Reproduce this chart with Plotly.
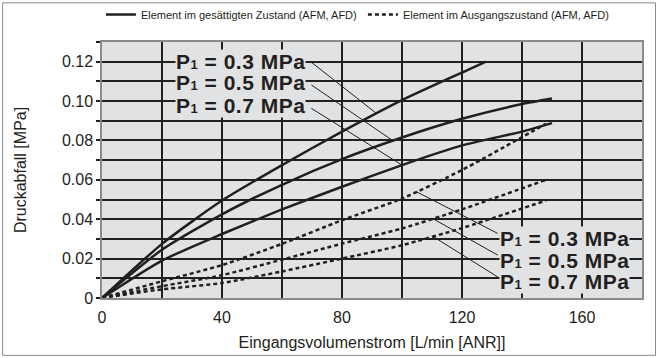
import numpy as np
import plotly.graph_objects as go

INK = "#231f20"
PLOT_BG = "#e1e2e3"
FRAME = "#8a8a8a"
FONT = "Liberation Sans, Arial, sans-serif"

# saturated element (solid)
flow_03 = [0, 20, 40, 60, 80, 100, 120, 128]
sat_03 = [0, 0.0275, 0.0495, 0.0675, 0.0845, 0.1005, 0.1145, 0.12]
flow_sat = [0, 20, 40, 60, 80, 100, 120, 140, 150]
sat_05 = [0, 0.0245, 0.0425, 0.0575, 0.0705, 0.0815, 0.091, 0.0985, 0.1013]
sat_07 = [0, 0.019, 0.0325, 0.045, 0.0565, 0.0675, 0.0775, 0.0845, 0.0888]

# initial element (dashed)
flow_init = [0, 20, 40, 60, 80, 100, 120, 148]
init_03 = [0, 0.0085, 0.0167, 0.0275, 0.0395, 0.0505, 0.065, 0.0885]
init_05 = [0, 0.006, 0.0116, 0.0195, 0.0276, 0.0353, 0.045, 0.06]
init_07 = [0, 0.0044, 0.0076, 0.0135, 0.020, 0.0268, 0.0355, 0.0495]

pressures = ["0.3", "0.5", "0.7"]
x_ticks = [0, 40, 80, 120, 160]
y_ticks = [0, 0.02, 0.04, 0.06, 0.08, 0.10, 0.12]
y_ticktext = ["0", "0.02", "0.04", "0.06", "0.08", "0.10", "0.12"]

# label boxes: (text x, text y, leader start x, leader start y, leader end x)
upper_labels = [(24.4, 0.1200, 69.8, 0.1197, 91.5),
                (24.4, 0.1092, 69.8, 0.1082, 97.0),
                (24.4, 0.0977, 69.8, 0.0963, 100.0)]
lower_labels = [(132.4, 0.0302, 131.9, 0.0328, 104.8),
                (132.4, 0.0192, 131.9, 0.0218, 110.3),
                (132.4, 0.0082, 131.9, 0.0107, 110.3)]

fig = go.Figure()

sat_series = [(flow_03, sat_03), (flow_sat, sat_05), (flow_sat, sat_07)]
init_series = [(flow_init, init_03), (flow_init, init_05), (flow_init, init_07)]

for i, (xs, ys) in enumerate(sat_series):
    fig.add_trace(go.Scatter(
        x=xs, y=ys, mode="lines", line=dict(color=INK, width=2.5, shape="spline", smoothing=0.6),
        name="Element im gesättigten Zustand (AFM, AFD)", showlegend=(i == 0)))
for i, (xs, ys) in enumerate(init_series):
    fig.add_trace(go.Scatter(
        x=xs, y=ys, mode="lines",
        line=dict(color=INK, width=2.5, dash="4px,3px", shape="spline", smoothing=0.6),
        name="Element im Ausgangszustand (AFM, AFD)", showlegend=(i == 0)))

# leader lines + labels
for groups, series in ((upper_labels, sat_series), (lower_labels, init_series)):
    for (tx, ty, sx, sy, ex), (xs, ys), p in zip(groups, series, pressures):
        ey = float(np.interp(ex, xs, ys))
        fig.add_shape(type="line", x0=sx, y0=sy, x1=ex, y1=ey,
                      line=dict(color=INK, width=1), layer="above")
        fig.add_annotation(x=tx, y=ty, xanchor="left", yanchor="middle", showarrow=False,
                           align="left",
                           text=(f"<span style='letter-spacing:0.5px'><b>P<span style='font-size:13px'>1</span>"
                                 f" = {p} MPa</b></span>"),
                           font=dict(size=21, color=INK, family=FONT),
                           bgcolor=PLOT_BG, borderpad=0)

# outer frame
fig.add_shape(type="rect", xref="paper", yref="paper", x0=-0.184, x1=1.025, y0=-0.224, y1=1.153,
              line=dict(color=FRAME, width=1))

fig.update_layout(
    width=659, height=358,
    margin=dict(l=102, r=17, t=42, b=60, autoexpand=False),
    paper_bgcolor="white", plot_bgcolor=PLOT_BG,
    font=dict(family=FONT, color=INK, size=16),
    legend=dict(orientation="h", x=-0.002, y=1.164, xanchor="left", yanchor="top",
                font=dict(family=FONT, size=11, color=INK), itemwidth=30,
                entrywidth=217, entrywidthmode="pixels",
                bgcolor="rgba(0,0,0,0)", tracegroupgap=0),
    xaxis=dict(range=[0, 180], tickvals=list(range(0, 181, 20)),
               ticktext=[str(v) if v in x_ticks else "" for v in range(0, 181, 20)],
               showgrid=True, gridcolor=INK, gridwidth=2, zeroline=False,
               showline=True, linecolor=FRAME, linewidth=1.5, mirror=True,
               ticks="outside", ticklen=4, tickcolor="rgba(0,0,0,0)",
               title=dict(text="Eingangsvolumenstrom [L/min [ANR]]", standoff=12,
                          font=dict(size=16))),
    yaxis=dict(range=[0, 0.13],
               tickvals=[round(v * 0.01, 2) for v in range(0, 14)],
               ticktext=[y_ticktext[y_ticks.index(round(v * 0.01, 2))] if round(v * 0.01, 2) in y_ticks else ""
                         for v in range(0, 14)],
               showgrid=True, gridcolor=INK, gridwidth=2, zeroline=False,
               showline=True, linecolor=FRAME, linewidth=1.5, mirror=True,
               ticks="outside", ticklen=4, tickcolor=INK, tickwidth=1.5,
               title=dict(text="Druckabfall [MPa]", standoff=31, font=dict(size=16))),
)

fig.write_html("out.html", config={"displayModeBar": False},
               post_script="document.body.style.margin='0';")
